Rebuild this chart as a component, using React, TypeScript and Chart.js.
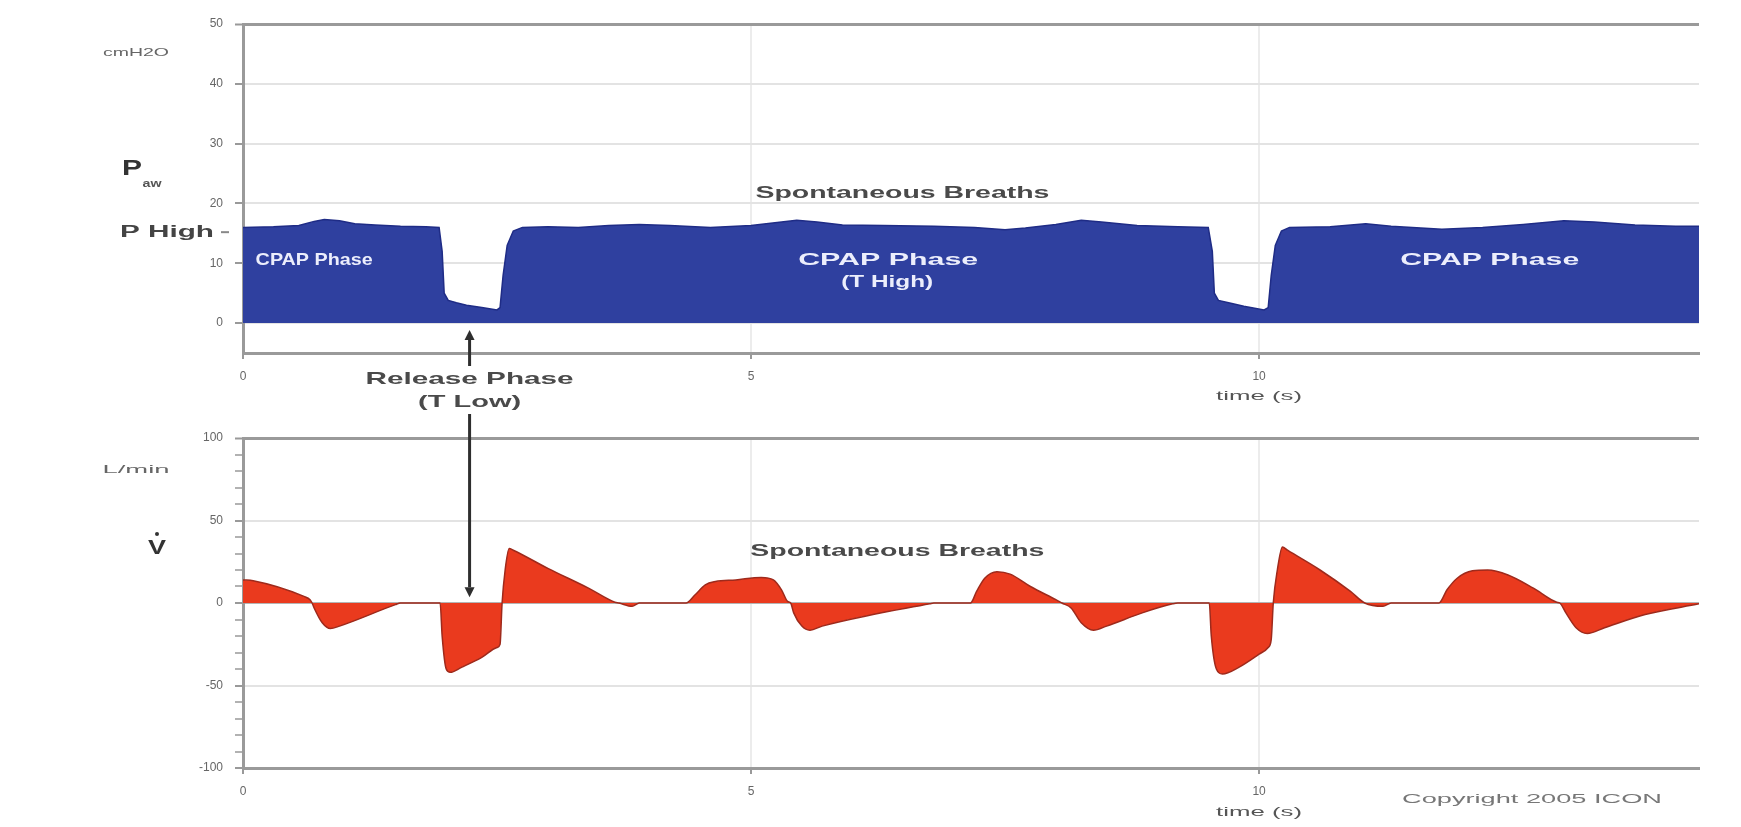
import React, { useEffect, useRef } from "react";
import { Chart, registerables } from "chart.js";

Chart.register(...registerables);

// ---------- data ----------
const PRESSURE_TIME = [
  0.0, 0.3, 0.55, 0.7, 0.8, 0.95, 1.1, 1.3, 1.55, 1.8, 1.93, 1.96, 1.98, 2.02, 2.1, 2.2, 2.35, 2.5, 2.53,
  2.56, 2.6, 2.66, 2.75, 3.0, 3.3, 3.6, 3.9, 4.2, 4.6, 5.0, 5.3, 5.45, 5.65, 5.9, 6.3, 6.8, 7.2, 7.5, 7.7,
  8.0, 8.25, 8.45, 8.8, 9.2, 9.5, 9.54, 9.56, 9.6, 9.7, 9.85, 10.05, 10.09, 10.12, 10.16, 10.22, 10.3,
  10.7, 11.05, 11.3, 11.8, 12.2, 12.6, 13.0, 13.3, 13.7, 14.1, 14.33,
];
const PRESSURE_VALUES = [
  16.0, 16.1, 16.3, 17.0, 17.3, 17.1, 16.6, 16.4, 16.2, 16.1, 16.0, 12.0, 5.0, 3.8, 3.4, 3.0, 2.6, 2.2, 2.6,
  8.0, 13.0, 15.4, 16.0, 16.1, 16.0, 16.3, 16.5, 16.3, 16.0, 16.3, 16.9, 17.2, 16.9, 16.4, 16.3, 16.2, 16.0,
  15.6, 15.9, 16.5, 17.2, 16.9, 16.3, 16.1, 16.0, 12.0, 5.0, 3.8, 3.4, 2.8, 2.2, 2.6, 8.0, 13.0, 15.4, 16.0,
  16.1, 16.6, 16.2, 15.7, 16.0, 16.5, 17.1, 16.9, 16.4, 16.2, 16.2,
];

const FLOW_TIME = [
  0.0, 0.1, 0.6, 0.66, 0.68, 0.7, 0.78, 0.86, 0.95, 1.5, 1.55, 1.94, 1.96, 2.0, 2.04, 2.15, 2.35, 2.5, 2.53,
  2.55, 2.58, 2.62, 2.66, 3.0, 3.4, 3.66, 3.7, 3.83, 3.9, 4.36, 4.45, 4.55, 4.65, 4.85, 5.1, 5.22, 5.3, 5.36,
  5.39, 5.42, 5.5, 5.58, 5.7, 6.2, 6.76, 6.8, 7.16, 7.22, 7.3, 7.42, 7.55, 7.75, 8.0, 8.06, 8.15, 8.25, 8.37,
  8.5, 8.85, 9.15, 9.2, 9.51, 9.53, 9.58, 9.64, 9.8, 10.0, 10.09, 10.12, 10.14, 10.18, 10.23, 10.28, 10.6,
  10.9, 11.04, 11.22, 11.3, 11.77, 11.85, 11.95, 12.1, 12.25, 12.45, 12.7, 12.93, 12.96, 13.02, 13.12, 13.23,
  13.4, 13.8, 14.33,
];
const FLOW_VALUES = [
  14, 13.5, 4, 2, 0, -3, -12, -15.5, -14, -1, 0, 0, -20, -40, -42, -39, -33, -27, -25,
  0, 20, 33, 32, 21, 9, 0.5, 0, -2, 0, 0, 5, 11, 13, 14, 15.5, 14, 8, 1,
  0, -6, -14, -16.5, -14, -7, -0.5, 0, 0, 7, 15, 19, 17.5, 10, 2, 0, -3, -12, -16.5,
  -14, -6, -0.5, 0, 0, -20, -40, -43, -39, -31, -27, -22, 0, 20, 34, 32, 20,
  7, 0, -2, 0, 0, 8, 15, 19.5, 20, 17, 9, 0.5, 0, -6, -15, -18.5,
  -15, -7, -0.5,
];

const TIME_TICKS = [0, 5, 10];
const TIME_MAX = 14.33;
const PRESSURE_TICKS = [-5, 0, 10, 20, 30, 40, 50];
const FLOW_MAJOR_TICKS = [-100, -50, 0, 50, 100];
const FLOW_MINOR_STEP = 10;

// ---------- helpers ----------
const FONT = '"Liberation Sans", Arial, sans-serif';

function stretchText(
  ctx: CanvasRenderingContext2D,
  text: string,
  cx: number,
  cy: number,
  size: number,
  weight: string,
  color: string,
  width: number
) {
  ctx.save();
  ctx.font = `${weight} ${size}px ${FONT}`;
  ctx.fillStyle = color;
  ctx.textAlign = "center";
  ctx.textBaseline = "middle";
  const w = ctx.measureText(text).width;
  ctx.translate(cx, cy);
  ctx.scale(width / w, 1);
  ctx.fillText(text, 0, 0);
  ctx.restore();
}

function arrow(ctx: CanvasRenderingContext2D, x: number, yFrom: number, yTip: number, color: string) {
  const dir = yTip > yFrom ? 1 : -1;
  const head = 10;
  ctx.save();
  ctx.strokeStyle = color;
  ctx.fillStyle = color;
  ctx.lineWidth = 3;
  ctx.beginPath();
  ctx.moveTo(x, yFrom);
  ctx.lineTo(x, yTip - dir * head);
  ctx.stroke();
  ctx.beginPath();
  ctx.moveTo(x, yTip);
  ctx.lineTo(x - 5, yTip - dir * head);
  ctx.lineTo(x + 5, yTip - dir * head);
  ctx.closePath();
  ctx.fill();
  ctx.restore();
}

const TOP_H = 412;
const BOT_H = 415;
const W = 1741;

const topAnnotations = {
  id: "topAnnotations",
  afterDraw(chart: any) {
    const { ctx } = chart;
    const x = chart.scales.x;
    const y = chart.scales.y;
    stretchText(ctx, "Spontaneous Breaths", x.getPixelForValue(6.49), y.getPixelForValue(21.6), 16, "bold", "#4a4a4a", 294);
    stretchText(ctx, "CPAP Phase", x.getPixelForValue(0.7), y.getPixelForValue(10.5), 17, "bold", "#eceefc", 117);
    stretchText(ctx, "CPAP Phase", x.getPixelForValue(6.35), y.getPixelForValue(10.5), 17, "bold", "#eceefc", 180);
    stretchText(ctx, "(T High)", x.getPixelForValue(6.34), y.getPixelForValue(6.8), 17, "bold", "#eceefc", 92);
    stretchText(ctx, "CPAP Phase", x.getPixelForValue(12.27), y.getPixelForValue(10.5), 17, "bold", "#eceefc", 179);
    const ax = x.getPixelForValue(2.23);
    stretchText(ctx, "Release Phase", ax, 379, 17, "bold", "#4a4a4a", 208);
    stretchText(ctx, "(T Low)", ax, 402, 17, "bold", "#4a4a4a", 103);
    arrow(ctx, ax, 366, 330, "#2e2e2e");
    stretchText(ctx, "cmH2O", 136, 53, 11, "normal", "#666", 66);
    stretchText(ctx, "P", 132, 169, 22, "bold", "#333", 20);
    stretchText(ctx, "aw", 152, 184, 10, "bold", "#555", 19);
    const ph = y.getPixelForValue(15.2);
    stretchText(ctx, "P High", 167, ph, 16, "bold", "#444", 94);
    ctx.save();
    ctx.strokeStyle = "#888";
    ctx.lineWidth = 2;
    ctx.beginPath();
    ctx.moveTo(221, ph);
    ctx.lineTo(229, ph);
    ctx.stroke();
    ctx.restore();
    stretchText(ctx, "time (s)", x.getPixelForValue(10), 397, 12, "normal", "#555", 86);
  },
};

const bottomAnnotations = {
  id: "bottomAnnotations",
  afterDraw(chart: any) {
    const { ctx } = chart;
    const x = chart.scales.x;
    const y = chart.scales.y;
    stretchText(ctx, "Spontaneous Breaths", x.getPixelForValue(6.44), y.getPixelForValue(31), 16, "bold", "#4a4a4a", 294);
    arrow(ctx, x.getPixelForValue(2.23), 2, y.getPixelForValue(3.5), "#2e2e2e");
    stretchText(ctx, "L/min", 136, 58, 11, "normal", "#666", 67);
    stretchText(ctx, "V", 157, 136, 20, "bold", "#333", 18);
    ctx.save();
    ctx.fillStyle = "#333";
    ctx.beginPath();
    ctx.arc(157, 122, 2, 0, Math.PI * 2);
    ctx.fill();
    ctx.restore();
    stretchText(ctx, "time (s)", x.getPixelForValue(10), 401, 12, "normal", "#555", 86);
    stretchText(ctx, "Copyright 2005 ICON", 1532, 388, 12, "normal", "#777", 260);
  },
};

const tickFont = { family: FONT, size: 12 };

function xScale(height: number) {
  return {
    type: "linear" as const,
    min: 0,
    max: TIME_MAX,
    afterBuildTicks: (s: any) => {
      s.ticks = TIME_TICKS.map((v) => ({ value: v }));
    },
    afterFit: (s: any) => {
      s.height = height;
    },
    ticks: { font: tickFont, color: "#666", padding: 10, autoSkip: false, maxRotation: 0 },
    grid: {
      color: (c: any) => (c.tick && c.tick.value === 0 ? "rgba(0,0,0,0)" : "#ececec"),
      lineWidth: 2,
      tickLength: 6,
      tickColor: "#999",
      tickWidth: 2,
    },
    border: { color: "#9a9a9a", width: 3 },
  };
}

export default function App() {
  const topRef = useRef<HTMLCanvasElement>(null);
  const botRef = useRef<HTMLCanvasElement>(null);

  useEffect(() => {
    const pressurePts = PRESSURE_TIME.map((t, i) => ({ x: t, y: PRESSURE_VALUES[i] }));
    const flowPts = FLOW_TIME.map((t, i) => ({ x: t, y: FLOW_VALUES[i] }));

    const flowTicks: number[] = [];
    for (let v = FLOW_MAJOR_TICKS[0]; v <= FLOW_MAJOR_TICKS[FLOW_MAJOR_TICKS.length - 1]; v += FLOW_MINOR_STEP) {
      flowTicks.push(v);
    }

    const top = new Chart(topRef.current as HTMLCanvasElement, {
      type: "line",
      data: {
        datasets: [
          {
            data: pressurePts,
            fill: "origin",
            backgroundColor: "#2f409f",
            borderColor: "#1f2c86",
            borderWidth: 1.5,
            pointRadius: 0,
            tension: 0,
          },
        ],
      },
      options: {
        animation: false,
        responsive: false,
        layout: { padding: { top: 24, right: 42, left: 0, bottom: 0 } },
        plugins: { legend: { display: false }, tooltip: { enabled: false } },
        scales: {
          x: xScale(TOP_H - 353),
          y: {
            type: "linear",
            min: -5,
            max: 50,
            afterBuildTicks: (s: any) => {
              s.ticks = PRESSURE_TICKS.map((v) => ({ value: v }));
            },
            afterFit: (s: any) => {
              s.width = 243;
            },
            ticks: {
              font: tickFont,
              color: "#666",
              padding: 12,
              autoSkip: false,
              callback: (v: any) => (v === -5 ? "" : String(v)),
            },
            grid: {
              color: (c: any) => {
                const v = c.tick ? c.tick.value : null;
                if (v === 50) return "#9a9a9a";
                if (v === -5) return "rgba(0,0,0,0)";
                return "#e3e3e3";
              },
              lineWidth: (c: any) => (c.tick && c.tick.value === 50 ? 3 : 2),
              tickLength: 8,
              tickColor: (c: any) => (c.tick && c.tick.value === -5 ? "rgba(0,0,0,0)" : "#999"),
              tickWidth: 2,
            },
            border: { color: "#9a9a9a", width: 3 },
          },
        },
      },
      plugins: [topAnnotations],
    } as any);

    const bottom = new Chart(botRef.current as HTMLCanvasElement, {
      type: "line",
      data: {
        datasets: [
          {
            data: flowPts,
            fill: "origin",
            backgroundColor: "#ea3a1e",
            borderColor: "#9e2a1c",
            borderWidth: 1.5,
            pointRadius: 0,
            cubicInterpolationMode: "monotone",
          },
        ],
      },
      options: {
        animation: false,
        responsive: false,
        layout: { padding: { top: 26, right: 42, left: 0, bottom: 0 } },
        plugins: { legend: { display: false }, tooltip: { enabled: false } },
        scales: {
          x: xScale(BOT_H - 356),
          y: {
            type: "linear",
            min: -100,
            max: 100,
            afterBuildTicks: (s: any) => {
              s.ticks = flowTicks.map((v) => ({ value: v }));
            },
            afterFit: (s: any) => {
              s.width = 243;
            },
            ticks: {
              font: tickFont,
              color: "#666",
              padding: 12,
              autoSkip: false,
              callback: (v: any) => (FLOW_MAJOR_TICKS.includes(v) ? String(v) : ""),
            },
            grid: {
              color: (c: any) => {
                const v = c.tick ? c.tick.value : null;
                if (v === 100) return "#9a9a9a";
                if (v === 0) return "#b4b4b4";
                if (v === 50 || v === -50) return "#e3e3e3";
                return "rgba(0,0,0,0)";
              },
              lineWidth: (c: any) => (c.tick && c.tick.value === 100 ? 3 : 2),
              tickLength: 8,
              tickColor: "#999",
              tickWidth: (c: any) => (c.tick && FLOW_MAJOR_TICKS.includes(c.tick.value) ? 2 : 1.5),
            },
            border: { color: "#9a9a9a", width: 3 },
          },
        },
      },
      plugins: [bottomAnnotations],
    } as any);

    return () => {
      top.destroy();
      bottom.destroy();
    };
  }, []);

  return (
    <div style={{ position: "absolute", left: 0, top: 0, width: W, height: TOP_H + BOT_H, background: "#fff" }}>
      <canvas
        ref={topRef}
        width={W}
        height={TOP_H}
        style={{ position: "absolute", left: 0, top: 0, width: W, height: TOP_H }}
      />
      <canvas
        ref={botRef}
        width={W}
        height={BOT_H}
        style={{ position: "absolute", left: 0, top: TOP_H, width: W, height: BOT_H }}
      />
    </div>
  );
}
